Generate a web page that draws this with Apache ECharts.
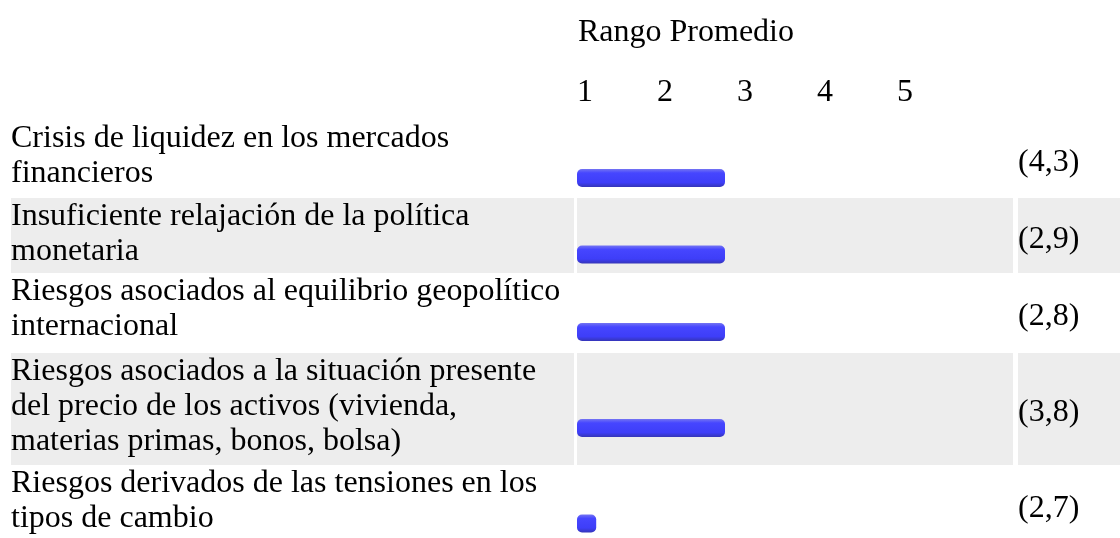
<!DOCTYPE html>
<html>
<head>
<meta charset="utf-8">
<script src="https://cdn.jsdelivr.net/npm/echarts@6/dist/echarts.min.js"></script>
<style>
html,body{margin:0;padding:0;background:#fff}
#main{width:1120px;height:538px}
</style>
</head>
<body>
<div id="main"></div>
<script>
// datos
var riskLabels = [
    'Crisis de liquidez en los mercados\nfinancieros',
    'Insuficiente relajación de la política\nmonetaria',
    'Riesgos asociados al equilibrio geopolítico\ninternacional',
    'Riesgos asociados a la situación presente\ndel precio de los activos (vivienda,\nmaterias primas, bonos, bolsa)',
    'Riesgos derivados de las tensiones en los\ntipos de cambio'
];
var meanRank = [4.3, 2.9, 2.8, 3.8, 2.7];
var barStart = [0.9, 0.9, 0.9, 0.9, 0.9];
var barEnd = [2.75, 2.75, 2.75, 2.75, 1.14];
var axisTicks = [1, 2, 3, 4, 5];

var FONT = '"Liberation Serif", "Times New Roman", serif';
var rowTop = [120, 198, 273, 353, 465];
var rowBottom = [198, 273, 353, 465, 545];

function fmt(v){
    return '(' + String(v.toFixed(1)).replace('.', ',') + ')';
}

var grids = [], xAxes = [], yAxes = [], series = [], graphics = [];

graphics.push({
    type: 'text', left: 578, top: 17,
    style: {text: 'Rango Promedio', font: '32px ' + FONT, fill: '#000'}
});

for (var i = 0; i < riskLabels.length; i++) {
    var mid = (rowTop[i] + rowBottom[i]) / 2;
    if (i % 2 == 1) {
        var h = rowBottom[i] - rowTop[i];
        graphics.push({type: 'rect', z: -10, shape: {x: 11, y: rowTop[i], width: 563, height: h}, style: {fill: '#ededed'}});
        graphics.push({type: 'rect', z: -10, shape: {x: 577, y: rowTop[i], width: 436, height: h}, style: {fill: '#ededed'}});
        graphics.push({type: 'rect', z: -10, shape: {x: 1018, y: rowTop[i], width: 102, height: h}, style: {fill: '#ededed'}});
    }
    graphics.push({
        type: 'text', x: 11, y: rowTop[i] + 1,
        style: {text: riskLabels[i], font: '32px ' + FONT, fill: '#000', lineHeight: 35, verticalAlign: 'top'}
    });
    graphics.push({
        type: 'text', x: 1018, y: mid + 4,
        style: {text: fmt(meanRank[i]), font: '32px ' + FONT, fill: '#000', verticalAlign: 'middle'}
    });

    var c = mid + 19;
    grids.push({left: 505, width: 480, top: c - 15, height: 30});
    xAxes.push({
        gridIndex: i, type: 'value', min: 0, max: 6, interval: 1,
        position: 'top',
        show: i == 0,
        axisLine: {show: false}, axisTick: {show: false}, splitLine: {show: false},
        axisLabel: {
            margin: 54, color: '#000', fontSize: 32, fontFamily: FONT,
            formatter: function (v) { return axisTicks.indexOf(v) >= 0 ? String(v) : ''; }
        }
    });
    yAxes.push({gridIndex: i, type: 'category', data: [''], show: false});
    series.push({
        type: 'bar', xAxisIndex: i, yAxisIndex: i, stack: 'r' + i, barWidth: 18, silent: true,
        itemStyle: {color: 'transparent'},
        data: [barStart[i]]
    });
    series.push({
        type: 'bar', xAxisIndex: i, yAxisIndex: i, stack: 'r' + i, barWidth: 18, silent: true,
        itemStyle: {
            borderRadius: 5,
            color: new echarts.graphic.LinearGradient(0, 0, 0, 1, [
                {offset: 0, color: '#7474f2'},
                {offset: 0.22, color: '#4646ff'},
                {offset: 0.75, color: '#3e3ef8'},
                {offset: 1, color: '#3535b8'}
            ])
        },
        data: [+(barEnd[i] - barStart[i]).toFixed(2)]
    });
}

var myChart = echarts.init(document.getElementById('main'));
myChart.setOption({
    animation: false,
    grid: grids,
    xAxis: xAxes,
    yAxis: yAxes,
    series: series,
    graphic: graphics
});
</script>
</body>
</html>
